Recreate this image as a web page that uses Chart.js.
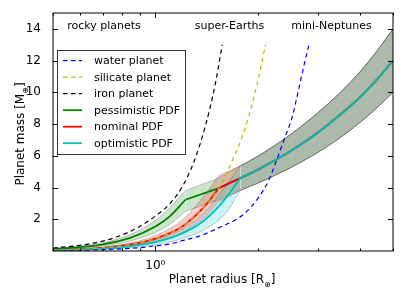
<!DOCTYPE html>
<html>
<head>
<meta charset="utf-8">
<script src="https://cdn.jsdelivr.net/npm/chart.js@4.4.0/dist/chart.umd.min.js"></script>
<style>
  body { margin: 0; background: #fff; }
</style>
</head>
<body>
<canvas id="massRadius" width="407" height="305"></canvas>
<script>
// composition curves (radius in R_earth, mass in M_earth)
const waterR = [0.5, 0.7, 0.9, 1.0, 1.1, 1.2, 1.36, 1.55, 1.7, 1.82, 2.0, 2.16, 2.23, 2.39, 2.53, 2.64, 2.75, 2.83];
const waterM = [0.025, 0.085, 0.21, 0.33, 0.43, 0.65, 0.97, 1.5, 1.9, 2.32, 3.3, 4.5, 5.25, 7.0, 8.5, 10.2, 11.9, 13.0];
const silR = [0.5, 0.6, 0.7, 0.844, 1.0, 1.2, 1.4, 1.537, 1.7, 1.8, 1.95, 2.11];
const silM = [0.06, 0.11, 0.2, 0.41, 0.78, 1.55, 2.85, 3.96, 5.9, 7.2, 9.7, 13.0];
const ironR = [0.5, 0.6, 0.7, 0.8, 0.9, 1.0, 1.1, 1.2, 1.3, 1.4, 1.5, 1.573];
const ironM = [0.19, 0.36, 0.62, 1.02, 1.55, 2.2, 2.95, 4.05, 5.65, 7.8, 10.5, 13.0];

// pessimistic PDF: rocky part, super-Earth part
const pessR = [0.5, 0.6, 0.7, 0.844, 1.0, 1.1, 1.226];
const pessM = [0.12, 0.24, 0.42, 0.83, 1.54, 2.17, 3.23];
const pessHi = [0.15, 0.3, 0.52, 1.04, 1.92, 2.7, 3.8];
const pessLo = [0.09, 0.18, 0.32, 0.63, 1.17, 1.66, 2.5];
const pessSeR = [1.226, 1.537, 1.78];
const pessSeM = [3.23, 3.96, 4.6];
const pessSeHi = [3.8, 4.6, 5.37];
const pessSeLo = [2.5, 3.22, 3.83];

// nominal PDF
const nomR = [0.5, 0.6, 0.7, 0.844, 1.0, 1.2, 1.4, 1.537];
const nomM = [0.06, 0.11, 0.2, 0.41, 0.78, 1.55, 2.85, 3.96];
const nomHi = [0.075, 0.14, 0.25, 0.51, 0.98, 1.95, 3.55, 4.75];
const nomLo = [0.045, 0.083, 0.15, 0.31, 0.59, 1.17, 2.15, 3.1];
const nomSeR = [1.537, 1.78];
const nomSeM = [3.96, 4.6];
const nomSeHi = [4.75, 5.37];
const nomSeLo = [3.1, 3.83];

// optimistic PDF
const optR = [0.5, 0.6, 0.7, 0.844, 1.0, 1.2, 1.4, 1.6, 1.78];
const optM = [0.043, 0.084, 0.15, 0.3, 0.56, 1.11, 1.97, 3.25, 4.6];
const optHi = [0.054, 0.105, 0.19, 0.38, 0.7, 1.39, 2.46, 4.0, 5.37];
const optLo = [0.03, 0.059, 0.105, 0.21, 0.39, 0.78, 1.38, 2.3, 3.83];

// mini-Neptune part, shared by all three PDFs
const mnR = [1.78, 2.0, 2.5, 3.0, 3.5, 4.0, 4.5, 5.0];
const mnM = [4.6, 5.12, 6.3, 7.45, 8.6, 9.7, 10.85, 12.0];
const mnHi = [5.37, 5.97, 7.35, 8.7, 10.0, 11.3, 12.65, 14.0];
const mnLo = [3.83, 4.27, 5.25, 6.2, 7.15, 8.1, 9.05, 10.0];

const xTicks = [0.5, 0.6, 0.7, 0.8, 0.9, 1, 2, 3, 4, 5];
const yTicks = [2, 4, 6, 8, 10, 12, 14];
const regions = ['rocky planets', 'super-Earths', 'mini-Neptunes'];

function pts(xs, ys) {
  return xs.map((x, i) => ({ x: x, y: ys[i] }));
}

const datasets = [];

function addBand(xs, hi, lo, fillCol, order, smooth) {
  const mode = smooth ? 'monotone' : 'default';
  datasets.push({ data: pts(xs, hi), fill: '+1', backgroundColor: fillCol, borderColor: 'rgba(0,0,0,0.28)',
    borderWidth: 0.8, pointRadius: 0, cubicInterpolationMode: mode, order: order });
  datasets.push({ data: pts(xs, lo), fill: false, borderColor: 'rgba(0,0,0,0.28)',
    borderWidth: 0.8, pointRadius: 0, cubicInterpolationMode: mode, order: order });
}

function addLine(xs, ys, color, order, smooth, legend) {
  const ds = { data: pts(xs, ys), fill: false, borderColor: color, borderWidth: 1.8, pointRadius: 0,
    cubicInterpolationMode: smooth ? 'monotone' : 'default', order: order };
  if (legend) ds.label = legend;
  datasets.push(ds);
}

// bands (bottom)
addBand(pessR, pessHi, pessLo, 'rgba(0,128,0,0.2)', 100, true);
addBand(pessSeR, pessSeHi, pessSeLo, 'rgba(0,128,0,0.2)', 100, false);
addBand(mnR, mnHi, mnLo, 'rgba(0,128,0,0.2)', 100, true);
addBand(nomR, nomHi, nomLo, 'rgba(255,0,0,0.2)', 90, true);
addBand(nomSeR, nomSeHi, nomSeLo, 'rgba(255,0,0,0.2)', 90, false);
addBand(mnR, mnHi, mnLo, 'rgba(255,0,0,0.2)', 90, true);
addBand(optR, optHi, optLo, 'rgba(0,191,191,0.2)', 80, true);
addBand(mnR, mnHi, mnLo, 'rgba(0,191,191,0.2)', 80, true);

// PDF lines
addLine(pessR, pessM, '#008000', 50, true, 'pessimistic PDF');
addLine(pessSeR, pessSeM, '#008000', 50, false);
addLine(mnR, mnM, '#008000', 50, true);
addLine(nomR, nomM, '#ff0000', 40, true, 'nominal PDF');
addLine(nomSeR, nomSeM, '#ff0000', 40, false);
addLine(mnR, mnM, '#ff0000', 40, true);
addLine(optR, optM, '#00bfbf', 30, true, 'optimistic PDF');
addLine(mnR, mnM, '#00bfbf', 30, true);

// composition curves (top)
[[waterR, waterM, '#0000ff', 'water planet', 20],
 [silR, silM, '#bfbf00', 'silicate planet', 10],
 [ironR, ironM, '#000000', 'iron planet', 5]].forEach(c => {
  datasets.push({ label: c[3], data: pts(c[0], c[1]), fill: false, borderColor: c[2], borderWidth: 1.2,
    borderDash: [4.5, 3.5], pointRadius: 0, cubicInterpolationMode: 'monotone', order: c[4], isDashed: true });
});

const FONT = 'DejaVu Sans';

const decorations = {
  id: 'decorations',
  afterDraw(chart) {
    const ctx = chart.ctx;
    const a = chart.chartArea;
    const xs = chart.scales.x, ys = chart.scales.y;
    ctx.save();
    ctx.strokeStyle = '#000';
    ctx.lineWidth = 1;
    // ticks, pointing inwards on all four sides
    ctx.beginPath();
    xTicks.forEach(v => {
      const px = Math.round(xs.getPixelForValue(v)) + 0.5;
      const len = v === 1 ? 5 : 2.5;
      ctx.moveTo(px, a.bottom); ctx.lineTo(px, a.bottom - len);
      ctx.moveTo(px, a.top); ctx.lineTo(px, a.top + len);
    });
    yTicks.forEach(v => {
      const py = Math.round(ys.getPixelForValue(v)) + 0.5;
      ctx.moveTo(a.left, py); ctx.lineTo(a.left + 5, py);
      ctx.moveTo(a.right, py); ctx.lineTo(a.right - 5, py);
    });
    ctx.stroke();
    ctx.strokeRect(a.left, a.top, a.right - a.left, a.bottom - a.top);

    // region labels
    ctx.fillStyle = '#000';
    ctx.font = '11px "' + FONT + '"';
    ctx.textAlign = 'center';
    ctx.textBaseline = 'alphabetic';
    [104, 229.5, 331.5].forEach((x, i) => ctx.fillText(regions[i], x, 29));

    // axis titles with subscript
    function subTitle(main, sub, cx, by) {
      ctx.textAlign = 'left';
      ctx.textBaseline = 'alphabetic';
      ctx.font = '12px "' + FONT + '"';
      const w1 = ctx.measureText(main).width, w3 = ctx.measureText(']').width;
      ctx.font = '8px "' + FONT + '"';
      const w2 = ctx.measureText(sub).width;
      const x = cx - (w1 + w2 + w3) / 2;
      ctx.font = '12px "' + FONT + '"';
      ctx.fillText(main, x, by);
      ctx.font = '8px "' + FONT + '"';
      ctx.fillText(sub, x + w1, by + 4);
      ctx.font = '12px "' + FONT + '"';
      ctx.fillText(']', x + w1 + w2, by);
    }
    subTitle('Planet radius [R', '\u2295', 222, 283);
    ctx.save();
    ctx.translate(24, 134);
    ctx.rotate(-Math.PI / 2);
    subTitle('Planet mass [M', '\u2295', 0, 0);
    ctx.restore();

    // legend
    const lx = 57.5, ly = 50.5, lw = 128, lh = 104;
    ctx.fillStyle = '#fff';
    ctx.fillRect(lx, ly, lw, lh);
    ctx.strokeStyle = '#333';
    ctx.strokeRect(lx, ly, lw, lh);
    const entries = chart.data.datasets.filter(d => d.label);
    const dashed = entries.filter(d => d.isDashed);
    const solid = entries.filter(d => !d.isDashed);
    dashed.concat(solid).forEach((d, i) => {
      const y = 60.7 + i * 16.5;
      ctx.beginPath();
      ctx.strokeStyle = d.borderColor;
      ctx.lineWidth = d.borderWidth;
      ctx.setLineDash(d.borderDash || []);
      ctx.moveTo(63, y); ctx.lineTo(82, y);
      ctx.stroke();
      ctx.setLineDash([]);
      ctx.fillStyle = '#000';
      ctx.font = '11px "' + FONT + '"';
      ctx.textAlign = 'left';
      ctx.textBaseline = 'middle';
      ctx.fillText(d.label, 94, y + 0.5);
    });
    ctx.restore();
  }
};

new Chart(document.getElementById('massRadius'), {
  type: 'line',
  data: { datasets: datasets },
  options: {
    responsive: false,
    animation: false,
    devicePixelRatio: 1,
    layout: { padding: { top: 13, right: 14, left: 0, bottom: 0 } },
    plugins: { legend: { display: false }, tooltip: { enabled: false } },
    scales: {
      x: {
        type: 'logarithmic', min: 0.5, max: 5,
        grid: { display: false }, border: { display: false },
        afterBuildTicks: s => { s.ticks = xTicks.map(v => ({ value: v })); },
        afterFit: s => { s.height = 54; },
        ticks: { autoSkip: false, maxRotation: 0, padding: 0, color: '#000',
          font: { family: FONT, size: 12 },
          callback: v => (v === 1 ? '10\u2070' : '') }
      },
      y: {
        type: 'linear', min: 0, max: 15,
        grid: { display: false }, border: { display: false },
        afterBuildTicks: s => { s.ticks = yTicks.map(v => ({ value: v })); },
        afterFit: s => { s.width = 53; },
        ticks: { padding: 4, color: '#000', font: { family: FONT, size: 12 } }
      }
    }
  },
  plugins: [decorations]
});
</script>
</body>
</html>
